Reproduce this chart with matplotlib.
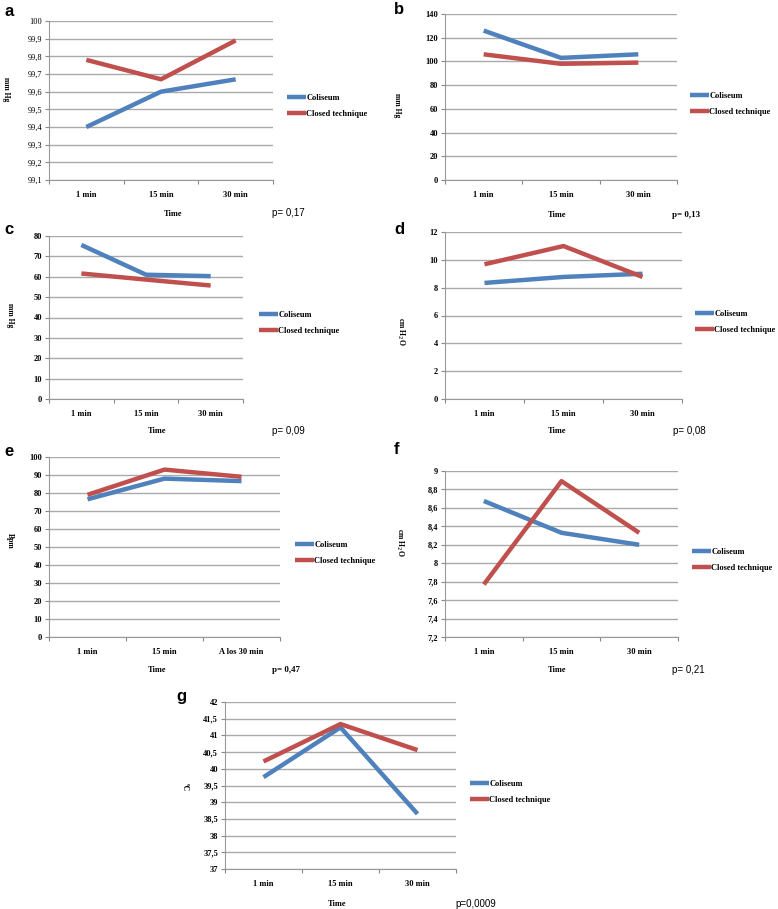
"""
Seven small line charts: Coliseum vs closed technique over time
"""
import matplotlib
matplotlib.use('Agg')
import matplotlib.pyplot as plt
import numpy as np

W, H = 778, 909
BLUE = '#4F81BD'
RED = '#C0504D'
SERIF = 'Liberation Serif'
SANS = 'Liberation Sans'

series_names = ['Coliseum', 'Closed technique']
times = ['1 min', '15 min', '30 min']
times_e = ['1 min', '15 min', 'A los 30 min']

# panel data
coliseum_a = [99.40, 99.60, 99.67]
closed_a = [99.78, 99.67, 99.89]
coliseum_b = [126, 103, 106]
closed_b = [106, 98, 99]
coliseum_c = [75.6, 61.0, 60.3]
closed_c = [61.6, 58.6, 55.7]
coliseum_d = [8.34, 8.77, 9.0]
closed_d = [9.68, 10.99, 8.77]
coliseum_e = [76.5, 88.0, 86.6]
closed_e = [79.0, 93.0, 89.0]
coliseum_f = [8.675, 8.33, 8.20]
closed_f = [7.77, 8.89, 8.33]
coliseum_g = [39.75, 41.24, 38.65]
closed_g = [40.22, 41.34, 40.56]

p_values = ['p= 0,17', 'p= 0,13', 'p= 0,09', 'p= 0,08', 'p= 0,47', 'p= 0,21', 'p=0,0009']
y_labels = ['mm Hg', 'mm Hg', 'mm Hg', 'cm H$_2$O', 'Bpm', 'cm H$_2$O', 'ºC']


def fmt(v):
    s = ('%.2f' % v).rstrip('0').rstrip('.')
    return s.replace('.', ',')


fig = plt.figure(figsize=(W / 100, H / 100), dpi=100)


def fx(x):
    return x / W


def fy(y):
    return 1 - y / H


def panel(letter, box, col, clo, cats, yticks, ylab, pval, p_serif, letter_xy,
          ylab_xy, leg_xy, time_xy, p_xy, ytick_bold=True):
    x0, y0, x1, y1 = box
    ax = fig.add_axes([fx(x0), fy(y1), (x1 - x0) / W, (y1 - y0) / H])
    xs = np.arange(len(cats)) + 0.5
    ax.plot(xs, col, color=BLUE, lw=3.2, solid_capstyle='butt', label=series_names[0], zorder=3)
    ax.plot(xs, clo, color=RED, lw=3.2, solid_capstyle='butt', label=series_names[1], zorder=3)
    ax.set_xlim(0, len(cats))
    ax.set_ylim(yticks[0], yticks[-1])
    ax.set_yticks(yticks)
    ax.set_yticklabels([fmt(v) for v in yticks], fontfamily=SERIF,
                       fontweight='bold' if ytick_bold else 'normal', fontsize=6)
    ax.set_xticks(np.arange(len(cats) + 1))
    ax.set_xticklabels([])
    ax.set_xticks(xs, minor=True)
    ax.set_xticklabels(cats, minor=True, fontfamily=SERIF, fontweight='bold', fontsize=6)
    ax.tick_params(axis='x', which='major', length=3, color='#888888', direction='out')
    ax.tick_params(axis='x', which='minor', length=0, pad=8)
    ax.tick_params(axis='y', length=3, color='#888888', pad=2)
    ax.grid(axis='y', color='#AAAAAA', lw=1.0)
    ax.set_axisbelow(True)
    for s in ['top', 'right']:
        ax.spines[s].set_visible(False)
    ax.spines['left'].set_color('#999999')
    ax.spines['bottom'].set_color('#999999')

    fig.text(fx(letter_xy[0]), fy(letter_xy[1]), letter, fontfamily=SANS, fontweight='bold',
             fontsize=12, ha='center', va='center')
    fig.text(fx(ylab_xy[0]), fy(ylab_xy[1]), ylab, fontfamily=SERIF, fontweight='bold',
             fontsize=5.5, rotation=270, ha='center', va='center')
    fig.text(fx(time_xy[0]), fy(time_xy[1]), 'Time', fontfamily=SERIF, fontweight='bold',
             fontsize=6, ha='center', va='center')
    if p_serif:
        fig.text(fx(p_xy[0]), fy(p_xy[1]), pval, fontfamily=SERIF, fontweight='bold',
                 fontsize=6.5, ha='left', va='center')
    else:
        fig.text(fx(p_xy[0]), fy(p_xy[1]), pval, fontfamily=SANS,
                 fontsize=7, ha='left', va='center')
    ax.legend(loc='center left', bbox_to_anchor=(fx(leg_xy[0]), fy(leg_xy[1])),
              bbox_transform=fig.transFigure, frameon=False, borderpad=0, borderaxespad=0,
              handlelength=2.3, handletextpad=0.0, labelspacing=1.05,
              prop={'family': SERIF, 'weight': 'bold', 'size': 6})
    return ax


panel('a', (49, 21, 273, 180), coliseum_a, closed_a, times,
      np.round(np.arange(99.1, 100.001, 0.1), 1), y_labels[0], p_values[0], False,
      (9, 11), (6, 89), (287, 106), (173, 214), (272, 213), ytick_bold=False)
panel('b', (445, 14, 677, 180), coliseum_b, closed_b, times,
      np.arange(0, 141, 20), y_labels[1], p_values[1], True,
      (399, 9), (397, 105), (690, 104), (557, 215), (672, 215))
panel('c', (49, 236, 243, 399), coliseum_c, closed_c, times,
      np.arange(0, 81, 10), y_labels[2], p_values[2], False,
      (9, 230), (10, 315), (259, 323), (157, 431), (272, 431))
panel('d', (445, 232, 682, 399), coliseum_d, closed_d, times,
      np.arange(0, 13, 2), y_labels[3], p_values[3], False,
      (399, 229), (401, 331), (695, 322), (557, 431), (673, 431))
panel('e', (49, 457, 280, 637), coliseum_e, closed_e, times_e,
      np.arange(0, 101, 10), y_labels[4], p_values[4], True,
      (9, 451), (10, 541), (295, 553), (157, 670), (272, 670))
panel('f', (445, 471, 678, 637), coliseum_f, closed_f, times,
      np.round(np.arange(7.2, 9.001, 0.2), 1), y_labels[5], p_values[5], False,
      (396, 450), (400, 542), (692, 560), (557, 670), (672, 670))
panel('g', (225, 702, 456, 869), coliseum_g, closed_g, times,
      np.arange(37, 42.01, 0.5), y_labels[6], p_values[6], False,
      (181, 697), (185, 787), (470, 792), (337, 904), (455, 904))

fig.savefig('out.png', dpi=100)
